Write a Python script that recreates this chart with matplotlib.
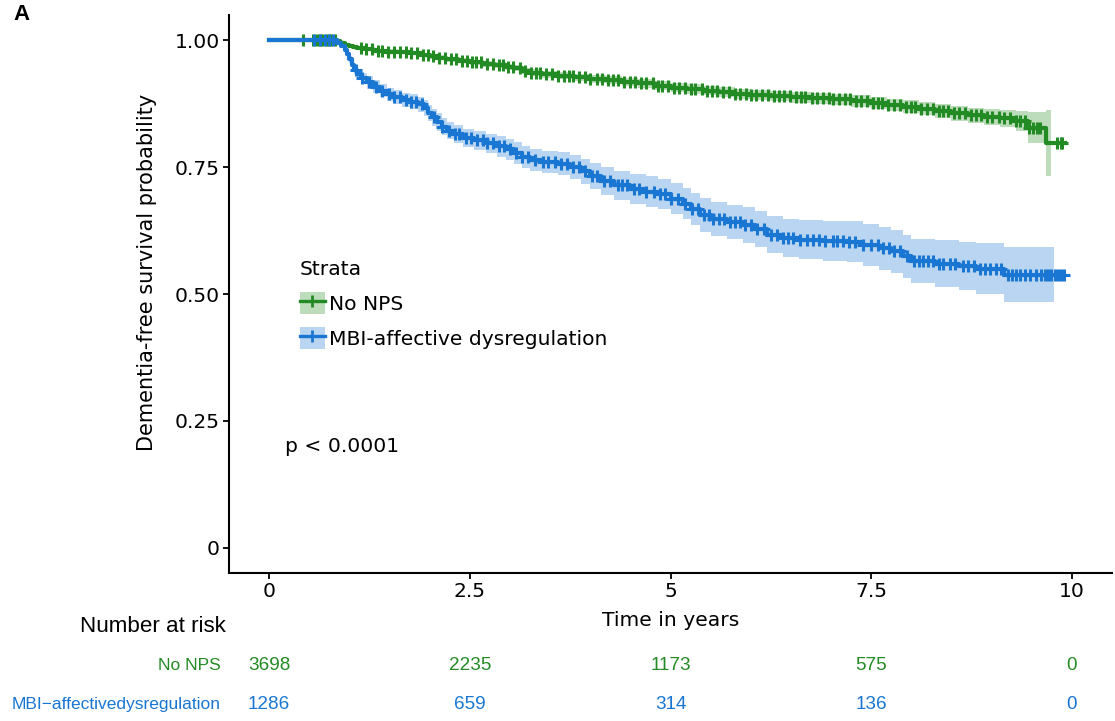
import matplotlib
matplotlib.use('Agg')
import matplotlib.pyplot as plt
import numpy as np
from matplotlib.patches import Patch
from matplotlib.lines import Line2D

# Kaplan-Meier curves (step knots, survival, CI half width)
nonps_time = [0, 0.85, 0.9, 0.95, 1.0, 1.05, 1.1, 1.2, 1.3, 1.45, 1.6, 1.75, 1.9, 2.0, 2.1,
              2.2, 2.35, 2.5, 2.65, 2.8, 2.95, 3.05, 3.15, 3.25, 3.4, 3.6, 3.8, 4.0, 4.2, 4.4,
              4.6, 4.8, 5.0, 5.2, 5.4, 5.6, 5.8, 6.0, 6.25, 6.5, 6.75, 7.0, 7.25, 7.5, 7.7,
              7.9, 8.1, 8.3, 8.5, 8.7, 8.9, 9.1, 9.3, 9.45, 9.68]
nonps_surv = [1.0, 0.997, 0.994, 0.991, 0.988, 0.986, 0.984, 0.982, 0.980, 0.978, 0.977,
              0.975, 0.972, 0.969, 0.966, 0.963, 0.960, 0.957, 0.954, 0.951, 0.948, 0.945,
              0.940, 0.936, 0.933, 0.930, 0.927, 0.924, 0.921, 0.918, 0.915, 0.911, 0.907,
              0.904, 0.901, 0.898, 0.895, 0.892, 0.890, 0.888, 0.886, 0.884, 0.881, 0.877,
              0.873, 0.869, 0.865, 0.861, 0.856, 0.852, 0.849, 0.846, 0.841, 0.828, 0.798]
nonps_half = [0, 0.001, 0.001, 0.002, 0.002, 0.002, 0.003, 0.003, 0.003, 0.004,
              0.004, 0.004, 0.004, 0.005, 0.005, 0.005, 0.005, 0.005, 0.006, 0.006,
              0.006, 0.006, 0.006, 0.007, 0.007, 0.007, 0.007, 0.008, 0.008, 0.008,
              0.008, 0.009, 0.009, 0.009, 0.009, 0.010, 0.010, 0.010, 0.010, 0.011,
              0.011, 0.011, 0.012, 0.012, 0.012, 0.013, 0.013, 0.014, 0.014, 0.015,
              0.016, 0.017, 0.019, 0.030, 0.065]
nonps_end = 9.92
nonps_band_end = 9.74
nonps_censor = [0.42, 0.55, 0.6, 0.63, 0.66, 0.71, 0.74, 0.77, 0.82,
                1.15, 1.21, 1.28, 1.35, 1.41, 1.48, 1.55, 1.63, 1.7, 1.77, 1.84, 1.92, 1.98,
                2.04, 2.11, 2.19, 2.26, 2.33, 2.4, 2.47, 2.53, 2.58, 2.64, 2.71, 2.79, 2.86,
                2.91, 2.97, 3.04, 3.12, 3.19, 3.26, 3.32, 3.38, 3.45, 3.52, 3.6, 3.67, 3.73,
                3.79, 3.86, 3.93, 4.0, 4.08, 4.15, 4.22, 4.28, 4.35, 4.42, 4.49, 4.56, 4.63,
                4.7, 4.78, 4.84, 4.9, 4.97, 5.04, 5.11, 5.18, 5.25, 5.31, 5.39, 5.46, 5.52,
                5.58, 5.66, 5.73, 5.8, 5.87, 5.94, 6.0, 6.07, 6.14, 6.22, 6.29, 6.35, 6.41,
                6.49, 6.56, 6.62, 6.68, 6.76, 6.83, 6.9, 6.97, 7.03, 7.1, 7.17, 7.24, 7.31,
                7.37, 7.45, 7.52, 7.58, 7.64, 7.71, 7.78, 7.86, 7.93, 7.99, 8.05, 8.12, 8.19,
                8.27, 8.34, 8.4, 8.46, 8.53, 8.6, 8.67, 8.74, 8.8, 8.87, 8.94, 9.01, 9.09,
                9.16, 9.23, 9.3, 9.36, 9.42, 9.47, 9.52, 9.56, 9.6, 9.82, 9.86, 9.88]

mbi_time = [0, 0.85, 0.9, 0.94, 0.97, 1.0, 1.03, 1.06, 1.1, 1.15, 1.22, 1.3, 1.38, 1.47,
            1.56, 1.66, 1.76, 1.86, 1.93, 1.98, 2.03, 2.09, 2.15, 2.22, 2.3, 2.42, 2.55, 2.7,
            2.84, 2.95, 3.05, 3.15, 3.25, 3.4, 3.6, 3.75, 3.88, 4.0, 4.13, 4.3, 4.5, 4.7,
            4.85, 5.0, 5.15, 5.25, 5.37, 5.5, 5.7, 5.9, 6.05, 6.2, 6.4, 6.6, 6.9, 7.2, 7.4,
            7.6, 7.75, 7.9, 8.0, 8.3, 8.6, 8.8, 9.15]
mbi_surv = [1.0, 0.995, 0.988, 0.981, 0.974, 0.963, 0.952, 0.942, 0.933, 0.925, 0.917,
            0.909, 0.901, 0.894, 0.888, 0.883, 0.879, 0.874, 0.866, 0.857, 0.848, 0.839,
            0.830, 0.822, 0.815, 0.808, 0.803, 0.797, 0.791, 0.785, 0.778, 0.770, 0.764,
            0.760, 0.757, 0.750, 0.742, 0.733, 0.723, 0.714, 0.707, 0.702, 0.697, 0.688,
            0.678, 0.668, 0.656, 0.648, 0.642, 0.636, 0.628, 0.617, 0.610, 0.607, 0.605,
            0.603, 0.597, 0.590, 0.584, 0.574, 0.565, 0.560, 0.555, 0.550, 0.538]
mbi_half = [0, 0.003, 0.004, 0.005, 0.006, 0.007, 0.008, 0.009, 0.010, 0.011,
            0.012, 0.012, 0.013, 0.013, 0.014, 0.014, 0.015, 0.015, 0.016, 0.016,
            0.016, 0.017, 0.017, 0.017, 0.018, 0.018, 0.019, 0.019, 0.020, 0.020,
            0.021, 0.021, 0.022, 0.022, 0.023, 0.024, 0.025, 0.026, 0.027, 0.028,
            0.029, 0.030, 0.030, 0.031, 0.031, 0.032, 0.033, 0.033, 0.034, 0.035,
            0.035, 0.036, 0.037, 0.038, 0.039, 0.040, 0.041, 0.042, 0.042, 0.043,
            0.044, 0.046, 0.048, 0.050, 0.054]
mbi_end = 9.9
mbi_band_end = 9.78
mbi_censor = [0.56, 0.63, 0.69, 0.74, 0.8, 1.08, 1.16, 1.24, 1.33, 1.41, 1.49, 1.56, 1.63,
              1.7, 1.77, 1.83, 1.9, 2.06, 2.15, 2.24, 2.31, 2.37, 2.45, 2.52, 2.59, 2.66,
              2.72, 2.79, 2.86, 2.93, 3.0, 3.08, 3.15, 3.22, 3.31, 3.41, 3.48, 3.56, 3.63,
              3.71, 3.78, 3.86, 3.94, 4.02, 4.09, 4.17, 4.25, 4.34, 4.4, 4.46, 4.54, 4.61,
              4.7, 4.8, 4.87, 4.93, 5.01, 5.09, 5.18, 5.27, 5.34, 5.42, 5.48, 5.53, 5.6,
              5.67, 5.74, 5.8, 5.87, 5.93, 6.0, 6.08, 6.16, 6.25, 6.33, 6.4, 6.46, 6.52,
              6.61, 6.7, 6.78, 6.85, 6.93, 7.02, 7.08, 7.15, 7.22, 7.3, 7.4, 7.5, 7.59,
              7.65, 7.72, 7.79, 7.86, 7.94, 8.03, 8.09, 8.15, 8.21, 8.27, 8.34, 8.4, 8.48,
              8.55, 8.64, 8.71, 8.78, 8.85, 8.92, 8.98, 9.05, 9.12, 9.2, 9.25, 9.3, 9.36,
              9.42, 9.48, 9.55, 9.61, 9.66, 9.7, 9.74, 9.79, 9.83, 9.87, 9.9]

# number at risk table
risk_times = [0, 2.5, 5, 7.5, 10]
risk_nonps = [3698, 2235, 1173, 575, 0]
risk_mbi = [1286, 659, 314, 136, 0]

green = '#238B23'
blue = '#1976D2'
strata = [('No NPS', green, nonps_time, nonps_surv, nonps_half, nonps_end, nonps_band_end, nonps_censor),
          ('MBI-affective dysregulation', blue, mbi_time, mbi_surv, mbi_half, mbi_end, mbi_band_end, mbi_censor)]

plt.rcParams['font.family'] = ['DejaVu Sans']
FS = 14.6

fig = plt.figure(figsize=(11.15, 7.21), dpi=100)
W, H = 1115.0, 721.0
# main axes: spines from x=229..1112 px, y=15..573 px
ax = fig.add_axes([229 / W, 1 - 573 / H, (1112 - 229) / W, (573 - 15) / H])

for name, col, t, s, hw, t_end, b_end, cens in strata:
    t = np.array(t)
    s = np.array(s)
    hw = np.array(hw)
    # confidence band
    tb = np.append(t, b_end)
    lo = np.append(s - hw, (s - hw)[-1])
    hi = np.append(s + hw, (s + hw)[-1])
    ax.fill_between(tb, lo, hi, step='post', color=col, alpha=0.3, linewidth=0)
    # survival curve
    ax.step(np.append(t, t_end), np.append(s, s[-1]), where='post', color=col, lw=3)
    # censor marks on the curve
    idx = np.searchsorted(t, cens, side='right') - 1
    ax.plot(cens, s[idx], ls='none', marker='+', ms=9, mew=2.2, color=col)

ax.set_xlim(-0.5, 10.5)
ax.set_ylim(-0.05, 1.05)
ax.set_xticks([0, 2.5, 5, 7.5, 10])
ax.set_xticklabels(['0', '2.5', '5', '7.5', '10'])
ax.set_yticks([0, 0.25, 0.5, 0.75, 1.0])
ax.set_yticklabels(['0', '0.25', '0.50', '0.75', '1.00'])
ax.tick_params(labelsize=FS, width=1.3, length=4, color='black', labelcolor='black', pad=2.5)
for side in ['top', 'right']:
    ax.spines[side].set_visible(False)
for side in ['left', 'bottom']:
    ax.spines[side].set_linewidth(1.5)
ax.set_xlabel('Time in years', fontsize=FS, labelpad=7.5)
ax.set_ylabel('Dementia-free survival probability', fontsize=15)
ax.yaxis.set_label_coords(-0.082, 0.539)

ax.text(0.2, 0.2, 'p < 0.0001', fontsize=FS, va='center', ha='left')

# legend with band patch + line with cross
handles = []
for name, col, *_ in strata:
    handles.append((Patch(facecolor=col, alpha=0.3, edgecolor='none'),
                    Line2D([], [], color=col, lw=2.4, marker='+', ms=8, mew=2)))
leg = ax.legend(handles, [st[0] for st in strata], title='Strata', loc='upper left',
                bbox_to_anchor=(0.064, 0.586), frameon=False, fontsize=FS, title_fontsize=FS,
                handlelength=1.25, handleheight=1.25, handletextpad=0.2, labelspacing=0.65,
                alignment='left', borderaxespad=0.3)

# risk table
axr = fig.add_axes([229 / W, 1 - 718 / H, (1112 - 229) / W, 72 / H])
axr.set_xlim(ax.get_xlim())
axr.set_ylim(0, 2)
axr.axis('off')
rows = [(1.47, 'No NPS', green, risk_nonps), (0.37, 'MBI\u2212affectivedysregulation', blue, risk_mbi)]
for yy, lab, col, vals in rows:
    for tt, v in zip(risk_times, vals):
        axr.text(tt, yy, str(v), ha='center', va='center', color=col, fontsize=13.6,
                 family='Liberation Sans')
    axr.text(-0.6, yy, lab, ha='right', va='center', color=col, fontsize=12.5,
             family='Liberation Sans', clip_on=False)
fig.text(80 / W, 1 - 627 / H, 'Number at risk', fontsize=16.1, family='Liberation Sans',
         ha='left', va='center')

fig.text(13 / W, 1 - 15 / H, 'A', fontsize=16, fontweight='bold', family='Liberation Sans',
         ha='left', va='center')

plt.savefig('out.png', dpi=100)
